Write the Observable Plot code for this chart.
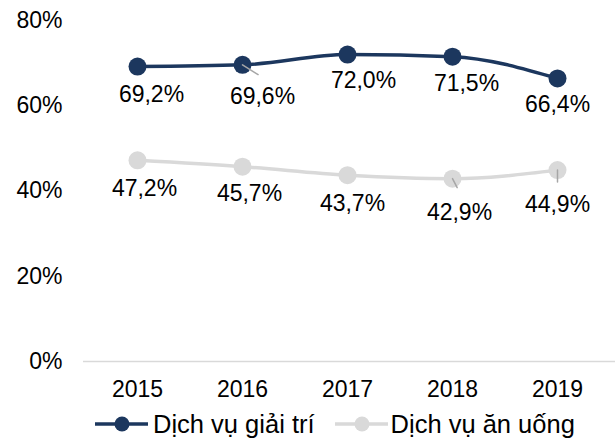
<!DOCTYPE html>
<html><head><meta charset="utf-8">
<script src="https://cdn.jsdelivr.net/npm/d3@7"></script>
<script src="https://cdn.jsdelivr.net/npm/@observablehq/plot@0.6"></script>
<style>
body{margin:0;background:#fff;font-family:"Liberation Sans",Arial,sans-serif;}
#chart svg{display:block;}
#legend{display:flex;align-items:center;height:38px;padding-left:95px;font-size:25.5px;color:#000;white-space:nowrap;}
#legend .item{display:flex;align-items:center;}
#legend svg{display:block;}
</style></head><body>
<div id="chart"></div>
<div id="legend"></div>
<script>
const years = ["2015", "2016", "2017", "2018", "2019"];
const seriesNames = ["Dịch vụ giải trí", "Dịch vụ ăn uống"];
const giaiTri = [69.2, 69.6, 72.0, 71.5, 66.4];
const anUong = [47.2, 45.7, 43.7, 42.9, 44.9];
const yTicks = [0, 20, 40, 60, 80];
const colors = ["#1c375e", "#d9d9d9"];
// label nudges (px) per series / point
const labelNudge = [
  [[14, 28], [20, 31.5], [16, 26.5], [14, 26.5], [0, 26.5]],
  [[7, 28], [7, 27], [5, 28], [7, 33.5], [0, 35]]
];
// leader lines (px length, degrees)
const leaders = [
  {s: 0, i: 1, len: 24.5, angle: 122},
  {s: 1, i: 3, len: 13.5, angle: 152.5},
  {s: 1, i: 4, len: 16, angle: 180}
];

const seriesValues = [giaiTri, anUong];
const data = seriesValues.flatMap((vals, s) => vals.map((v, i) => ({year: years[i], value: v, s, i, series: seriesNames[s]})));
const fmt = v => v.toFixed(1).replace(".", ",") + "%";

const marks = [
  Plot.ruleY([0], {stroke: "#d9d9d9", strokeWidth: 1.5}),
  Plot.axisY({ticks: yTicks, tickSize: 0, tickPadding: 21, tickFormat: d => d + "%", fontSize: 23, fill: "#000", label: null}),
  Plot.axisX({tickSize: 0, tickPadding: 19, fontSize: 23, fill: "#000", label: null}),
];
seriesValues.forEach((vals, s) => {
  const d = data.filter(r => r.s === s);
  marks.push(Plot.line(d, {x: "year", y: "value", stroke: colors[s], strokeWidth: 3.5, curve: "monotone-x"}));
  marks.push(Plot.dot(d, {x: "year", y: "value", fill: colors[s], r: 9}));
});
const leaderData = leaders.map(l => ({...data.find(r => r.s === l.s && r.i === l.i), len: l.len, angle: l.angle}));
marks.push(Plot.vector(leaderData, {
  x: "year", y: "value", length: "len", rotate: "angle", anchor: "start",
  stroke: "#a6a6a6", strokeWidth: 1.5,
  shape: {draw(context, l) { context.moveTo(0, 0); context.lineTo(0, -l); }}
}));
data.forEach(r => {
  const [dx, dy] = labelNudge[r.s][r.i];
  marks.push(Plot.text([r], {x: "year", y: "value", text: d => fmt(d.value), dx, dy, fontSize: 23, fill: "#000"}));
});

const chart = Plot.plot({
  width: 615,
  height: 405,
  marginTop: 20,
  marginBottom: 44,
  marginLeft: 83,
  marginRight: 0,
  style: {fontFamily: '"Liberation Sans", Arial, sans-serif', background: "#fff"},
  x: {type: "point", domain: years, range: [83, 610], padding: 0.5},
  y: {domain: [0, 80]},
  marks
});
document.getElementById("chart").append(chart);

const legend = document.getElementById("legend");
seriesNames.forEach((name, s) => {
  const item = document.createElement("div");
  item.className = "item";
  item.style.marginRight = s === 0 ? "20px" : "0";
  item.innerHTML = `<svg width="53" height="20"><line x1="0" y1="10" x2="53" y2="10" stroke="${colors[s]}" stroke-width="3.5"/><circle cx="27" cy="10" r="7.5" fill="${colors[s]}"/></svg><span style="margin-left:${s === 0 ? 5 : 3}px">${name}</span>`;
  legend.append(item);
});
</script>
</body></html>
